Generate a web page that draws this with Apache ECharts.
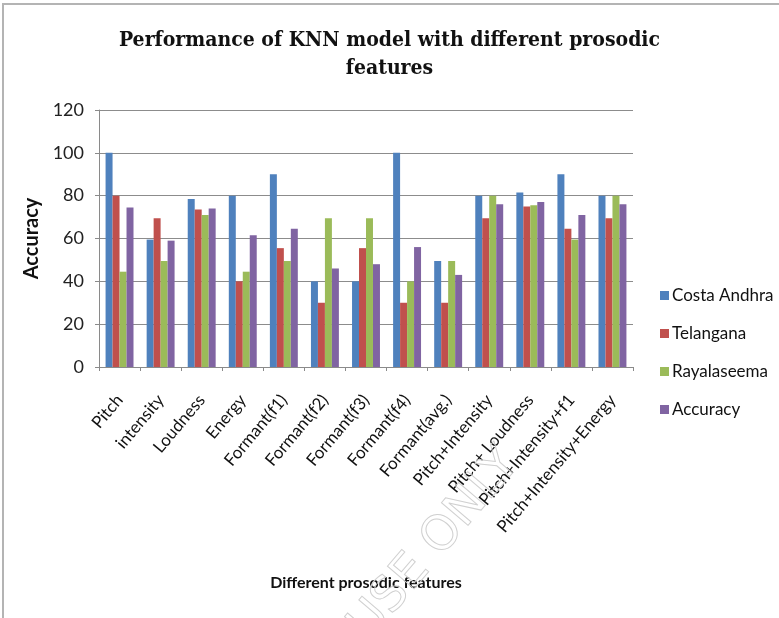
<!DOCTYPE html>
<html>
<head>
<meta charset="utf-8">
<script src="https://cdn.jsdelivr.net/npm/echarts@6/dist/echarts.min.js"></script>
<style>
  html, body { margin: 0; padding: 0; background: #fff; }
  #frame { position: absolute; left: 2px; top: 3px; width: 790px; height: 630px;
           border-left: 2px solid #b4b4b4; border-top: 2px solid #b4b4b4; }
  #chart { position: absolute; left: 0; top: 0; width: 779px; height: 618px; }
</style>
</head>
<body>
<div id="frame"></div>
<div id="chart"></div>
<script>
// Prosodic feature sets evaluated with the KNN model
const categories = [
  'Pitch', 'intensity', 'Loudness', 'Energy', 'Formant(f1)', 'Formant(f2)',
  'Formant(f3)', 'Formant(f4)', 'Formant(avg.)', 'Pitch+Intensity',
  'Pitch+ Loudness', 'Pitch+Intensity+f1', 'Pitch+Intensity+Energy'
];
const costaAndhra = [100, 59.5, 78.5, 80, 90, 40, 40, 100, 49.5, 80, 81.5, 90, 80];
const telangana   = [80, 69.5, 73.5, 40, 55.5, 30, 55.5, 30, 30, 69.5, 75, 64.5, 69.5];
const rayalaseema = [44.5, 49.5, 71, 44.5, 49.5, 69.5, 69.5, 40, 49.5, 80, 75.5, 59.5, 80];
const accuracy    = [74.5, 59, 74, 61.5, 64.5, 46, 48, 56, 43, 76, 77, 71, 76];
const yTicks = [0, 20, 40, 60, 80, 100, 120];

const seriesDefs = [
  { name: 'Costa Andhra', data: costaAndhra, color: '#4F81BD' },
  { name: 'Telangana',    data: telangana,   color: '#C0504D' },
  { name: 'Rayalaseema',  data: rayalaseema, color: '#9BBB59' },
  { name: 'Accuracy',     data: accuracy,    color: '#8064A2' }
];

const labelFont = 'Lato, "Open Sans", sans-serif';

const chart = echarts.init(document.getElementById('chart'), null, { renderer: 'canvas' });
chart.setOption({
  animation: false,
  backgroundColor: 'transparent',
  title: {
    text: 'Performance of KNN model with different prosodic\nfeatures',
    left: 'center',
    top: 22,
    textStyle: {
      fontFamily: '"DejaVu Serif Condensed", "DejaVu Serif", serif',
      fontWeight: 'bold',
      fontSize: 21,
      lineHeight: 28,
      color: '#111'
    }
  },
  legend: {
    orient: 'vertical',
    left: 655,
    top: 282,
    icon: 'rect',
    itemWidth: 9,
    itemHeight: 9,
    itemGap: 21,
    textStyle: { fontFamily: labelFont, fontSize: 17, color: '#111', padding: [0, 0, 0, -2] },
    data: seriesDefs.map(s => s.name)
  },
  grid: { left: 99, right: 146, top: 110, bottom: 251, containLabel: false },
  xAxis: {
    type: 'category',
    data: categories,
    name: 'Different prosodic features',
    nameLocation: 'middle',
    nameGap: 208,
    nameTextStyle: { fontFamily: labelFont, fontWeight: 'bold', fontSize: 16, color: '#111' },
    axisLine: { lineStyle: { color: '#8a8a8a', width: 1 } },
    axisTick: { show: true, length: 4, lineStyle: { color: '#8a8a8a' } },
    axisLabel: {
      rotate: 50,
      interval: 0,
      margin: 30,
      fontFamily: labelFont,
      fontSize: 17,
      color: '#111'
    }
  },
  yAxis: {
    type: 'value',
    min: yTicks[0],
    max: yTicks[yTicks.length - 1],
    interval: yTicks[1] - yTicks[0],
    name: 'Accuracy',
    nameLocation: 'middle',
    nameGap: 51,
    nameRotate: 90,
    nameTextStyle: { fontFamily: labelFont, fontWeight: 'bold', fontSize: 20, color: '#111' },
    axisLine: { show: true, lineStyle: { color: '#8a8a8a', width: 1 } },
    axisTick: { show: true, length: 4, lineStyle: { color: '#8a8a8a' } },
    axisLabel: { margin: 15, fontFamily: labelFont, fontSize: 18, color: '#222' },
    splitLine: { show: true, lineStyle: { color: '#8c8c8c', width: 1 } }
  },
  series: seriesDefs.map(s => ({
    name: s.name,
    type: 'bar',
    data: s.data,
    barGap: '0%',
    barCategoryGap: '32%',
    itemStyle: { color: s.color }
  })),
  graphic: [{
    type: 'text',
    x: 435,
    y: 545,
    rotation: Math.PI / 4 + 0.08,
    style: {
      text: 'USE ONLY',
      fontFamily: '"DejaVu Sans", sans-serif',
      fontSize: 48,
      fill: 'rgba(255,255,255,0)',
      stroke: '#d0d0d0',
      lineWidth: 1,
      align: 'center',
      verticalAlign: 'middle'
    },
    z: 100
  }]
});
</script>
</body>
</html>
